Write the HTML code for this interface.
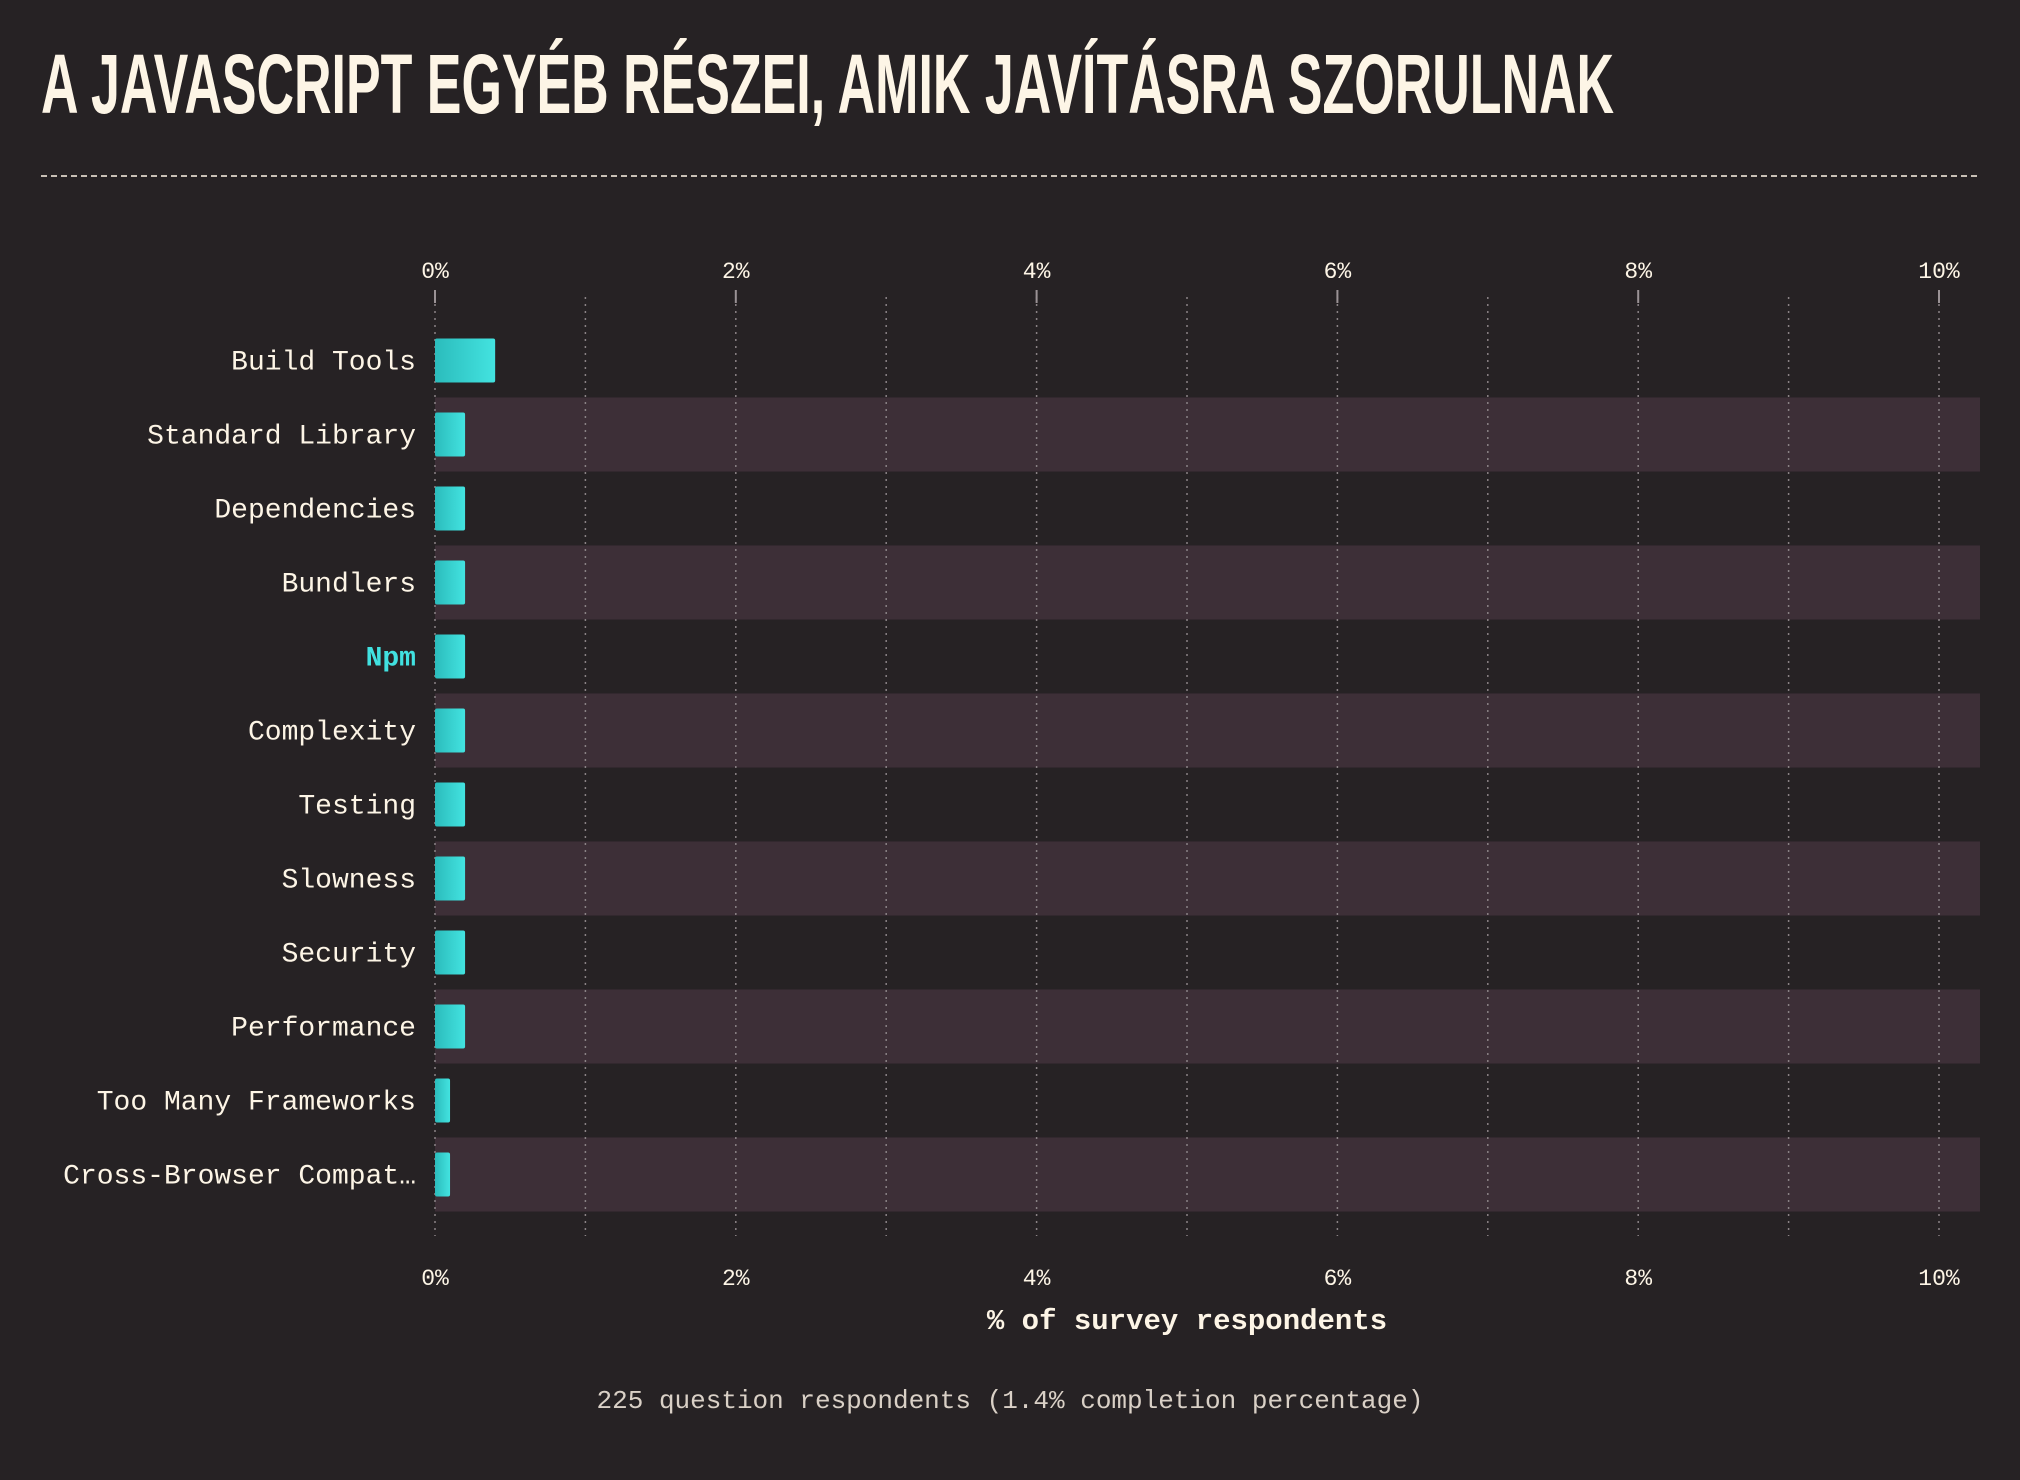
<!DOCTYPE html>
<html><head><meta charset="utf-8">
<style>
html,body{margin:0;padding:0;background:#262224;}
body{width:2020px;height:1480px;overflow:hidden;}
svg{display:block;}
.mono{font-family:"Liberation Mono","DejaVu Sans Mono",monospace;}
</style></head>
<body>
<svg id="chart" width="2020" height="1480">
<defs>
<linearGradient id="barg" x1="0" x2="1" y1="0" y2="0">
<stop offset="0" stop-color="#2bbcbc"/><stop offset="1" stop-color="#43e3e0"/>
</linearGradient>
</defs>
<text x="41" y="113" font-family="'Liberation Sans Narrow','Liberation Sans',sans-serif" font-weight="bold" font-size="84" fill="#fdf5e6" textLength="1573" lengthAdjust="spacingAndGlyphs">A JAVASCRIPT EGYÉB RÉSZEI, AMIK JAVÍTÁSRA SZORULNAK</text>
<line x1="41" y1="176" x2="1980" y2="176" stroke="#fdf5e6" stroke-width="1.5" stroke-dasharray="6,4"/>
<g id="bands"></g><g id="grid"></g><g id="bars"></g><g id="labels"></g><g id="ticks"></g>
<text class="mono" x="1187" y="1329" text-anchor="middle" font-size="29" font-weight="bold" fill="#fdf5e6">% of survey respondents</text>
<text class="mono" x="1010" y="1408" text-anchor="middle" font-size="26" fill="#d9d0c6">225 question respondents (1.4% completion percentage)</text>
</svg>
<script>
const categories=["Build Tools","Standard Library","Dependencies","Bundlers","Npm","Complexity","Testing","Slowness","Security","Performance","Too Many Frameworks","Cross-Browser Compat…"];
const values=[0.4,0.2,0.2,0.2,0.2,0.2,0.2,0.2,0.2,0.2,0.1,0.1];
const tickValues=[0,2,4,6,8,10];
const tickLabels=["0%","2%","4%","6%","8%","10%"];
const gridValues=[0,1,2,3,4,5,6,7,8,9,10];
const highlight="Npm";

const NS="http://www.w3.org/2000/svg";
const x0=435,x1=1939,maxV=10;
const xs=v=>x0+(v/maxV)*(x1-x0);
const rowTop=323.5,rowH=74;
const ys=i=>rowTop+i*rowH;
function mk(tag,attrs,parent){const e=document.createElementNS(NS,tag);for(const k in attrs)e.setAttribute(k,attrs[k]);parent.appendChild(e);return e;}
const gB=document.getElementById('bands'),gG=document.getElementById('grid'),gR=document.getElementById('bars'),gL=document.getElementById('labels'),gT=document.getElementById('ticks');
categories.forEach((c,i)=>{
  if(i%2===1){const b=mk('rect',{x:x0,y:ys(i),width:1980-x0,height:rowH,fill:'#3d2f37'},gB);
    
    }
  const r=mk('rect',{x:xs(0),y:ys(i)+rowH/2-22,width:xs(values[i])-xs(0),height:44,rx:2,fill:'url(#barg)'},gR);
  
  
  const hl=c===highlight;
  const t=mk('text',{x:416,y:ys(i)+rowH/2+9,'text-anchor':'end','font-size':28,fill:hl?'#41e1e0':'#fdf5e6','font-weight':hl?'bold':'normal','class':'mono'},gL);
  t.textContent=c;
  
  
});
gridValues.forEach(v=>{
  const major=tickValues.includes(v);
  const l=mk('line',{x1:xs(v),x2:xs(v),y1:major?290:297,y2:1236,stroke:'#8a8285','stroke-width':1.5,'stroke-dasharray':'2,5'},gG);
  
  
});
tickValues.forEach((v,k)=>{
  [278,1285].forEach((y,j)=>{
    const t=mk('text',{x:xs(v),y:y,'text-anchor':'middle','font-size':23,fill:'#fdf5e6','class':'mono'},gT);
    t.textContent=tickLabels[k];
    
    
  });
  const s=mk('line',{x1:xs(v),x2:xs(v),y1:290,y2:303,stroke:'#9a9295','stroke-width':2},gT);
  
  
});
</script>
</body></html>
